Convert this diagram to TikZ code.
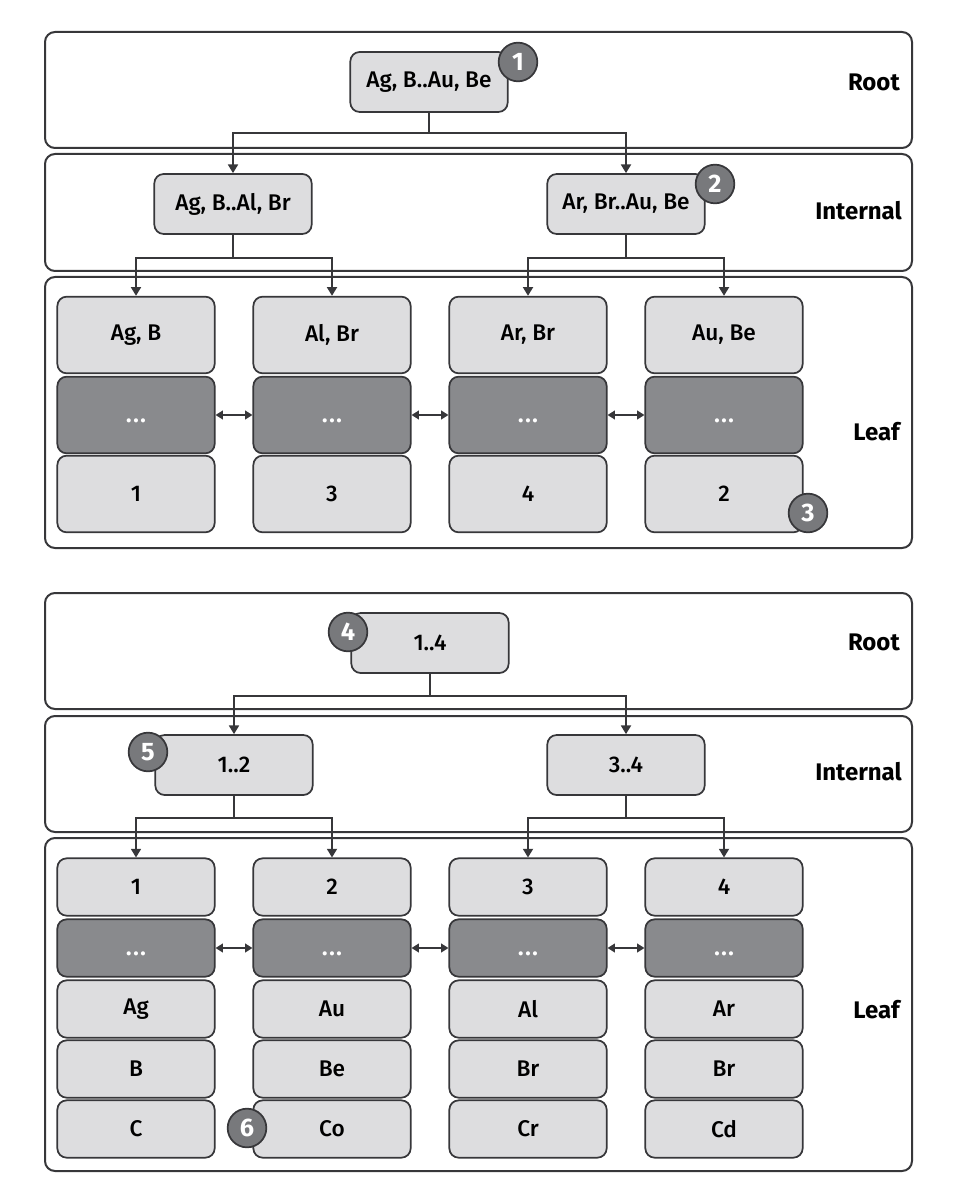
\documentclass[tikz,border=0pt]{standalone}
\usepackage{fontspec}
\setmainfont{Fira Sans}[UprightFont={Fira Sans Medium}, BoldFont={Fira Sans Bold}]
\usetikzlibrary{arrows.meta}
\definecolor{lightcell}{RGB}{221,221,223}
\definecolor{darkcell}{RGB}{137,138,141}
\definecolor{edgegray}{RGB}{55,55,58}
\definecolor{badgefill}{RGB}{120,121,124}
\newcommand{\gap}{\vphantom{A}\textbf{.\kern1.2pt.\kern1.2pt.}}
\tikzset{
  band/.style={draw=edgegray, line width=1.5pt, rounded corners=7.5pt},
  keybox/.style={draw=edgegray, fill=lightcell, rounded corners=7pt, line width=1.3pt, minimum width=118pt, minimum height=45pt, inner sep=2pt, font=\fontsize{17}{19}\selectfont},
  leafcell/.style={keybox, minimum height=57.5pt},
  ptrcell/.style={leafcell, fill=darkcell, text=white},
  rowcell/.style={keybox, minimum height=43pt},
  rowptr/.style={rowcell, fill=darkcell, text=white},
  badge/.style={circle, draw=edgegray, fill=badgefill, line width=1.3pt, minimum size=29pt, inner sep=0pt, text=white, font=\fontsize{19}{21}\selectfont\bfseries},
  level/.style={anchor=east, inner sep=0pt, font=\fontsize{18}{20}\selectfont\bfseries},
  down/.style={draw=edgegray, line width=1.3pt, -{Triangle[width=7.5pt,length=6.5pt]}},
  link/.style={draw=edgegray, line width=1.3pt, {Triangle[width=6.5pt,length=5.5pt]}-{Triangle[width=6.5pt,length=5.5pt]}}
}
\begin{document}
\begin{tikzpicture}[x=0.75pt,y=0.75pt,yscale=-1,xscale=1]
\useasboundingbox (0,0) rectangle (962,1194);

%%%%%%%%%% upper tree: keys %%%%%%%%%%
%Shape: bands
\draw[band] (45,32) rectangle (912,148);
\draw[band] (45,154) rectangle (912,271);
\draw[band] (45,277) rectangle (912,548);

% Text Node
\node[level] (kRootLbl) at (900,82) {Root};
\node[level] (kIntLbl) at (902,211) {Internal};
\node[level] (kLeafLbl) at (900,432) {Leaf};

%Root and internal pages
\node[keybox] (kRoot) at (429,82) {Ag, B..Au, Be};
\node[keybox] (kInt1) at (233,204) {Ag, B..Al, Br};
\node[keybox] (kInt2) at (626,204) {Ar, Br..Au, Be};

%Leaf pages
\node[leafcell] (kKey1) at (136,335) {Ag, B};
\node[ptrcell] (kPtr1) at (136,415) {\gap};
\node[leafcell] (kRow1) at (136,494) {1};
\node[leafcell] (kKey2) at (332,335) {Al, Br};
\node[ptrcell] (kPtr2) at (332,415) {\gap};
\node[leafcell] (kRow2) at (332,494) {3};
\node[leafcell] (kKey3) at (528,335) {Ar, Br};
\node[ptrcell] (kPtr3) at (528,415) {\gap};
\node[leafcell] (kRow3) at (528,494) {4};
\node[leafcell] (kKey4) at (724,335) {Au, Be};
\node[ptrcell] (kPtr4) at (724,415) {\gap};
\node[leafcell] (kRow4) at (724,494) {2};

%Straight Lines
\draw[down] (kRoot.south) -- ++(0,20) -| (kInt1.north);
\draw[down] (kRoot.south) -- ++(0,20) -| (kInt2.north);
\draw[down] (kInt1.south) -- ++(0,23) -| (kKey1.north);
\draw[down] (kInt1.south) -- ++(0,23) -| (kKey2.north);
\draw[down] (kInt2.south) -- ++(0,23) -| (kKey3.north);
\draw[down] (kInt2.south) -- ++(0,23) -| (kKey4.north);
\draw[link] (kPtr1.east) -- (kPtr2.west);
\draw[link] (kPtr2.east) -- (kPtr3.west);
\draw[link] (kPtr3.east) -- (kPtr4.west);

%Badges
\node[badge] (kBadge1) at (518,62) {1};
\node[badge] (kBadge2) at (715,184) {2};
\node[badge] (kBadge3) at (808,513) {3};

%%%%%%%%%% lower tree: pages %%%%%%%%%%
%Shape: bands
\draw[band] (45,593) rectangle (912,709);
\draw[band] (45,716) rectangle (912,832);
\draw[band] (45,838) rectangle (912,1171);

% Text Node
\node[level] (pRootLbl) at (900,642) {Root};
\node[level] (pIntLbl) at (902,772) {Internal};
\node[level] (pLeafLbl) at (900,1010) {Leaf};

%Root and internal pages
\node[keybox] (pRoot) at (430,643) {1..4};
\node[keybox] (pInt1) at (234,765) {1..2};
\node[keybox] (pInt2) at (626,765) {3..4};

%Leaf pages
\node[rowcell] (pKey1) at (136,887) {1};
\node[rowptr] (pPtr1) at (136,948) {\gap};
\node[rowcell] (pRowA1) at (136,1009) {Ag};
\node[rowcell] (pRowB1) at (136,1069) {B};
\node[rowcell] (pRowC1) at (136,1129) {C};
\node[rowcell] (pKey2) at (332,887) {2};
\node[rowptr] (pPtr2) at (332,948) {\gap};
\node[rowcell] (pRowA2) at (332,1009) {Au};
\node[rowcell] (pRowB2) at (332,1069) {Be};
\node[rowcell] (pRowC2) at (332,1129) {Co};
\node[rowcell] (pKey3) at (528,887) {3};
\node[rowptr] (pPtr3) at (528,948) {\gap};
\node[rowcell] (pRowA3) at (528,1009) {Al};
\node[rowcell] (pRowB3) at (528,1069) {Br};
\node[rowcell] (pRowC3) at (528,1129) {Cr};
\node[rowcell] (pKey4) at (724,887) {4};
\node[rowptr] (pPtr4) at (724,948) {\gap};
\node[rowcell] (pRowA4) at (724,1009) {Ar};
\node[rowcell] (pRowB4) at (724,1069) {Br};
\node[rowcell] (pRowC4) at (724,1129) {Cd};

%Straight Lines
\draw[down] (pRoot.south) -- ++(0,22) -| (pInt1.north);
\draw[down] (pRoot.south) -- ++(0,22) -| (pInt2.north);
\draw[down] (pInt1.south) -- ++(0,22) -| (pKey1.north);
\draw[down] (pInt1.south) -- ++(0,22) -| (pKey2.north);
\draw[down] (pInt2.south) -- ++(0,22) -| (pKey3.north);
\draw[down] (pInt2.south) -- ++(0,22) -| (pKey4.north);
\draw[link] (pPtr1.east) -- (pPtr2.west);
\draw[link] (pPtr2.east) -- (pPtr3.west);
\draw[link] (pPtr3.east) -- (pPtr4.west);

%Badges
\node[badge] (pBadge4) at (348,632) {4};
\node[badge] (pBadge5) at (148,752) {5};
\node[badge] (pBadge6) at (247,1128) {6};

\end{tikzpicture}
\end{document}
